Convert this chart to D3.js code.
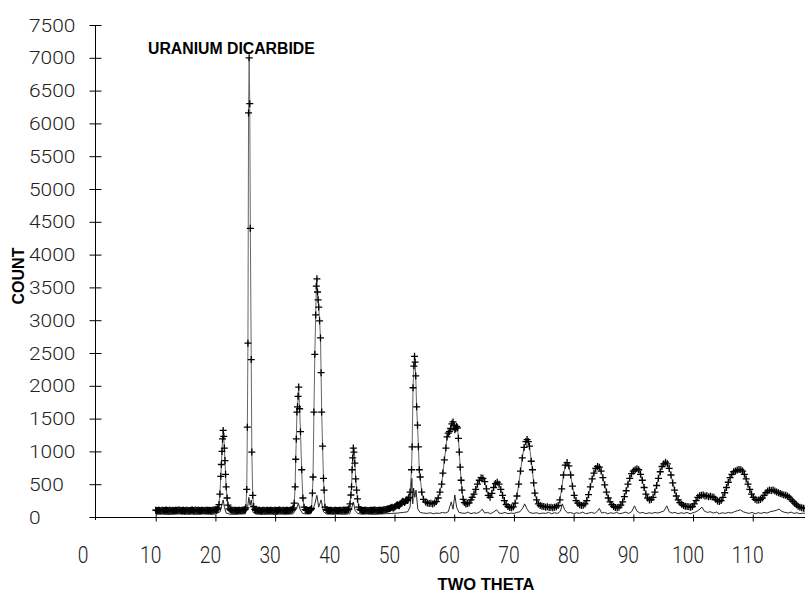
<!DOCTYPE html>
<html>
<head>
<meta charset="utf-8">
<script src="https://cdn.jsdelivr.net/npm/d3@7"></script>
<style>
  body { margin: 0; background: #fff; }
  svg { display: block; }
  .tick-label { font-family: Roboto, "DejaVu Sans", sans-serif; font-weight: 300; fill: #222; }
  .bold-label { font-family: "Liberation Sans", Arial, sans-serif; font-weight: bold; fill: #000; }
</style>
</head>
<body>
<svg class="xrd" width="805" height="596"></svg>
<script>
// tick labels
const xTicks = [0, 10, 20, 30, 40, 50, 60, 70, 80, 90, 100, 110]
const yTicks = [0, 500, 1000, 1500, 2000, 2500, 3000, 3500, 4000, 4500, 5000, 5500, 6000, 6500, 7000, 7500]

const observed = [
    [10.0,104],[10.15,100],[10.3,98],[10.45,103],[10.6,101],[10.75,97],[10.9,96],[11.05,102],[11.2,103],[11.35,99],
    [11.5,99],[11.65,104],[11.8,105],[11.95,100],[12.1,97],[12.25,101],[12.4,102],[12.55,98],[12.7,100],[12.85,104],
    [13.0,95],[13.15,99],[13.3,103],[13.45,101],[13.6,99],[13.75,103],[13.9,106],[14.05,101],[14.2,98],[14.35,96],
    [14.5,101],[14.65,104],[14.8,97],[14.95,100],[15.1,104],[15.25,102],[15.4,100],[15.55,98],[15.7,96],[15.85,101],
    [16.0,102],[16.15,105],[16.3,99],[16.45,97],[16.6,105],[16.75,101],[16.9,98],[17.05,103],[17.2,101],[17.35,99],
    [17.5,97],[17.65,102],[17.8,103],[17.95,98],[18.1,100],[18.25,104],[18.4,98],[18.55,101],[18.7,104],[18.85,99],
    [19.0,101],[19.15,98],[19.3,97],[19.45,102],[19.6,103],[19.75,105],[19.9,108],[20.05,110],[20.2,112],[20.35,120],
    [20.45,135],
    [20.6,190],[20.75,350],[20.9,620],[21.0,800],[21.1,1000],[21.2,1190],[21.3,1320],[21.4,1230],[21.5,1050],
    [21.6,860],[21.7,650],[21.8,460],[21.95,290],[22.1,180],[22.3,125],
    [22.5,110],[22.65,106],[22.8,104],[22.95,101],[23.1,99],[23.25,103],[23.4,102],[23.55,98],[23.7,97],[23.85,101],
    [24.0,103],[24.15,99],[24.3,100],[24.45,104],[24.6,106],[24.75,103],[24.9,112],[25.0,120],[25.1,140],
    [25.25,420],[25.35,1370],[25.45,2650],[25.55,6160],[25.65,7000],[25.75,6300],[25.85,4400],[26.0,2400],
    [26.1,990],[26.25,330],[26.4,160],
    [26.6,115],[26.7,108],[26.8,104],[26.95,101],[27.1,98],[27.25,102],[27.4,101],[27.55,97],[27.7,97],[27.85,100],
    [28.0,103],[28.15,101],[28.3,99],[28.45,96],[28.6,102],[28.75,104],[28.9,96],[29.05,100],[29.2,104],[29.35,101],
    [29.5,100],[29.65,98],[29.8,97],[29.95,101],[30.1,103],[30.25,100],[30.4,99],[30.55,102],[30.7,105],[30.85,101],
    [31.0,98],[31.15,97],[31.3,101],[31.45,104],[31.6,97],[31.75,100],[31.9,103],[32.05,102],[32.2,100],[32.35,99],
    [32.5,104],[32.65,106],[32.8,110],[32.95,122],[33.05,140],
    [33.2,210],[33.35,460],[33.45,880],[33.55,1190],[33.65,1600],[33.75,1680],[33.85,1840],[33.95,1980],
    [34.1,1650],[34.25,1300],[34.45,720],[34.65,290],[34.85,150],
    [35.05,112],[35.2,106],[35.3,103],[35.45,100],[35.6,99],[35.75,102],[35.9,106],[36.0,115],[36.1,130],
    [36.25,365],[36.35,610],[36.5,1600],[36.65,2480],[36.8,3080],[36.9,3520],[37.0,3630],[37.1,3430],[37.2,3310],
    [37.3,3200],[37.45,2990],[37.6,2730],[37.7,2200],[37.8,1600],[37.95,1080],[38.1,590],[38.2,410],[38.35,150],
    [38.55,112],[38.7,106],[38.8,103],[38.95,100],[39.1,99],[39.25,102],[39.4,101],[39.55,98],[39.7,96],[39.85,100],
    [40.0,104],[40.15,102],[40.3,100],[40.45,98],[40.6,97],[40.75,101],[40.9,103],[41.05,100],[41.2,99],[41.35,102],
    [41.5,105],[41.65,103],[41.8,101],[41.95,104],[42.1,108],[42.25,115],[42.35,125],
    [42.55,200],[42.7,335],[42.8,460],[42.9,720],[43.0,900],[43.1,1050],[43.2,990],[43.35,820],[43.5,580],
    [43.65,410],[43.8,275],[44.0,150],
    [44.2,115],[44.35,107],[44.5,102],[44.65,100],[44.8,98],[44.95,101],[45.1,104],[45.25,102],[45.4,100],[45.55,98],
    [45.7,97],[45.85,100],[46.0,103],[46.15,101],[46.3,99],[46.45,102],[46.6,105],[46.75,103],[46.9,101],[47.05,99],
    [47.2,98],[47.35,101],[47.5,104],[47.65,102],[47.8,100],[47.95,104],[48.1,107],[48.25,109],[48.4,110],[48.55,114],
    [48.7,118],[48.85,121],[49.0,125],[49.15,128],[49.3,132],[49.45,145],[49.6,150],[49.75,138],[49.9,140],[50.05,155],
    [50.2,165],[50.35,178],[50.5,185],[50.65,175],[50.8,170],[50.95,195],[51.1,210],[51.25,228],[51.4,240],[51.55,232],
    [51.7,220],[51.85,245],[52.0,260],[52.1,255],[52.2,250],[52.3,275],[52.4,300],
    [52.6,380],[52.85,720],[52.95,1070],[53.1,1970],[53.25,2300],[53.35,2450],[53.45,2360],[53.55,2150],[53.7,1680],
    [53.85,1400],[54.0,1070],[54.15,720],[54.3,610],[54.55,380],[54.85,270],[55.2,230],
    [55.5,215],[55.8,205],[56.1,210],[56.4,200],[56.7,215],[57.0,235],[57.3,290],[57.6,380],[57.9,500],[58.1,670],
    [58.35,870],[58.6,1050],[58.8,1220],[59.0,1280],[59.2,1300],[59.4,1350],[59.6,1420],[59.8,1450],[59.95,1400],
    [60.1,1330],[60.25,1350],[60.4,1380],[60.55,1360],[60.7,1200],[60.85,990],[61.0,760],[61.15,560],[61.3,410],
    [61.5,270],[61.7,220],[61.95,200],[62.2,205],[62.5,215],[62.8,260],
    [63.0,300],[63.3,350],[63.6,420],[63.9,500],[64.2,560],[64.5,600],[64.8,590],[65.1,540],[65.4,430],[65.7,330],
    [66.0,300],[66.3,360],[66.6,450],[66.9,510],[67.2,530],[67.5,500],[67.8,420],[68.1,330],[68.4,250],[68.7,190],
    [69.0,160],[69.3,145],[69.6,140],[69.9,155],[70.2,210],[70.5,320],[70.8,500],[71.1,700],[71.4,900],[71.7,1060],
    [72.0,1150],[72.2,1180],[72.4,1150],[72.6,1080],[72.9,850],[73.1,720],[73.3,520],[73.5,365],[73.8,260],[74.1,200],
    [74.4,175],[74.7,165],[75.0,160],[75.3,150],[75.6,155],[75.9,145],[76.2,150],[76.5,140],[76.8,150],[77.1,155],
    [77.4,175],[77.7,260],[78.0,430],[78.3,640],[78.6,790],[78.9,830],[79.2,780],[79.5,640],[79.8,470],[80.1,330],
    [80.4,250],[80.7,210],[81.0,185],[81.3,175],[81.6,180],[81.9,200],[82.2,250],[82.5,340],[82.8,460],[83.1,580],
    [83.4,670],[83.7,740],[84.0,770],[84.3,760],[84.6,700],[84.9,600],[85.2,490],[85.5,380],[85.8,290],[86.1,230],
    [86.4,190],[86.7,160],[87.0,145],[87.3,140],[87.6,150],[87.9,180],[88.2,230],[88.5,310],[88.8,400],[89.1,500],
    [89.4,590],[89.7,660],[90.0,700],[90.3,720],[90.6,735],[90.9,720],[91.2,650],[91.5,560],[91.8,450],[92.1,350],
    [92.4,290],[92.7,260],[93.0,265],[93.3,300],[93.6,380],[93.9,480],[94.2,590],[94.5,690],[94.8,770],[95.1,810],
    [95.4,835],[95.7,810],[96.0,740],[96.3,640],[96.6,520],[96.9,410],[97.2,320],[97.5,260],[97.8,220],[98.1,195],
    [98.4,175],[98.7,165],[99.0,160],[99.3,155],[99.6,150],[99.9,160],[100.2,200],[100.5,250],[100.8,300],[101.1,325],
    [101.4,330],[101.7,335],[102.0,320],[102.3,325],[102.6,310],[102.9,315],[103.2,305],[103.5,300],[103.8,270],[104.1,245],
    [104.4,235],[104.7,250],[105.0,300],[105.3,370],[105.6,450],[105.9,530],[106.2,600],[106.5,650],[106.8,690],[107.1,700],
    [107.4,715],[107.7,725],[108.0,720],[108.3,700],[108.6,650],[108.9,580],[109.2,500],[109.5,420],[109.8,350],[110.1,300],
    [110.4,270],[110.7,255],[111.0,260],[111.3,265],[111.6,290],[111.9,330],[112.2,370],[112.5,395],[112.8,410],[113.1,405],
    [113.4,410],[113.7,395],[114.0,380],[114.3,370],[114.6,360],[114.9,345],[115.2,335],[115.5,330],[115.8,320],[116.1,300],
    [116.4,270],[116.7,240],[117.0,210],[117.3,185],[117.6,165],[117.9,150],[118.2,140],[118.5,135],[118.8,130]
]

// thin lower trace
const lower = [
    [10,40],[11,45],[12,38],[13,42],[14,47],[15,40],[16,44],[17,39],[18,46],[19,41],[20,45],[20.8,80],[21.1,200],
    [21.3,260],[21.5,150],[21.8,60],[22.3,45],[23,40],[24,44],[25,48],[25.4,150],[25.6,300],[25.8,180],[26.0,260],
    [26.3,70],[26.8,45],[28,40],[29,44],[30,39],[31,45],[32,41],[33,48],[33.6,130],[33.9,210],[34.2,110],[34.6,55],
    [35.3,45],[36,48],[36.6,180],[37.0,330],[37.3,150],[37.7,260],[38.1,80],[38.6,45],[39.5,42],[40.5,46],[41.5,40],
    [42.5,50],[42.9,160],[43.1,230],[43.4,100],[43.8,55],[44.5,42],[45.5,46],[46.5,40],[47.5,45],[48.5,50],[49.5,55],
    [50.5,60],[51.5,70],[52.2,80],[52.6,150],[52.9,590],[53.05,200],[53.2,440],[53.4,300],[53.6,410],[53.9,120],
    [54.3,70],[54.8,60],[55.5,55],[56,65],[56.5,50],[57,60],[57.5,55],[58,70],[58.5,60],[59,80],[59.5,230],[59.8,120],
    [60.1,335],[60.4,150],[60.8,70],[61.3,60],[61.8,55],[62.3,75],[62.8,50],[63.3,65],[63.8,55],[64.3,80],[64.7,120],
    [65.1,60],[65.6,70],[66.1,50],[66.6,75],[67.1,110],[67.5,60],[68,55],[68.5,70],[69,50],[69.5,60],[70,55],[70.5,70],
    [71,80],[71.5,140],[71.8,200],[72.2,120],[72.6,70],[73.2,55],[73.8,65],[74.3,50],[74.8,60],[75.3,55],[75.8,70],
    [76.3,50],[76.8,65],[77.3,55],[77.8,90],[78.1,200],[78.5,110],[79,60],[79.5,70],[80,50],[80.5,65],[81,55],[81.5,75],
    [82,50],[82.5,60],[83,70],[83.5,55],[84,90],[84.3,130],[84.7,60],[85.2,70],[85.7,50],[86.2,65],[86.7,55],[87.2,70],
    [87.7,50],[88.2,60],[88.7,75],[89.2,55],[89.7,80],[90.2,170],[90.6,90],[91.1,60],[91.6,70],[92.1,50],[92.6,65],
    [93.1,55],[93.6,70],[94.1,60],[94.6,75],[95.1,90],[95.6,170],[96,80],[96.5,60],[97,70],[97.5,50],[98,65],[98.5,55],
    [99,70],[99.5,50],[100,65],[100.5,80],[101,110],[101.5,150],[101.9,90],[102.4,70],[102.9,80],[103.4,60],[103.9,75],
    [104.4,50],[104.9,65],[105.4,55],[105.9,70],[106.4,60],[106.9,80],[107.4,95],[107.9,110],[108.4,80],[108.9,65],
    [109.4,55],[109.9,70],[110.4,50],[110.9,65],[111.4,55],[111.9,70],[112.4,60],[112.9,80],[113.4,90],[113.9,100],
    [114.4,120],[114.9,85],[115.4,70],[115.9,60],[116.4,75],[116.9,55],[117.4,65],[117.9,50],[118.4,60],[118.8,55]
]

const svg = d3.select("svg.xrd")

const xScale = d3.scaleLinear()
    .domain([0, 118.75])
    .range([96, 805])

const yScale = d3.scaleLinear()
    .domain([0, 7500])
    .range([517, 25])

svg.append("clipPath")
    .attr("id", "plot-clip")
    .append("rect")
    .attr("x", 96)
    .attr("y", 0)
    .attr("width", 709)
    .attr("height", 520)

const plot = svg.append("g").attr("clip-path", "url(#plot-clip)")

const line = d3.line()
    .x(d => xScale(d[0]))
    .y(d => yScale(d[1]))

// lower trace
plot.append("path")
    .datum(lower)
    .attr("fill", "none")
    .attr("stroke", "#111")
    .attr("stroke-width", 0.9)
    .attr("d", line)

// observed trace and its plus markers
plot.append("path")
    .datum(observed)
    .attr("fill", "none")
    .attr("stroke", "#666")
    .attr("stroke-width", 1)
    .attr("d", line)

plot.selectAll("path.plus")
    .data(observed)
    .enter()
    .append("path")
    .attr("class", "plus")
    .attr("transform", d => "translate(" + xScale(d[0]) + "," + yScale(d[1]) + ")")
    .attr("d", "M-3.5,0H3.5M0,-3.5V3.5")
    .attr("stroke", "#000")
    .attr("stroke-width", 1.3)

// axes
const yAxis = svg.append("g")
    .attr("transform", "translate(95.5,0)")
    .call(d3.axisLeft(yScale).tickValues(yTicks).tickSize(0).tickFormat(""))

yAxis.select(".domain").remove()
yAxis.selectAll(".tick line").attr("x1", -6).attr("x2", 6).attr("stroke", "#000")
yAxis.append("line")
    .attr("x1", 0).attr("x2", 0)
    .attr("y1", yScale(7500)).attr("y2", yScale(0) + 3)
    .attr("stroke", "#000")

const xAxis = svg.append("g")
    .attr("transform", "translate(0,517.5)")
    .call(d3.axisBottom(xScale).tickValues(xTicks.slice(1)).tickSize(0).tickFormat(""))

xAxis.select(".domain").remove()
xAxis.selectAll(".tick line").attr("y1", -3).attr("y2", 4).attr("stroke", "#000")
xAxis.append("line")
    .attr("x1", 91).attr("x2", 805)
    .attr("y1", 0).attr("y2", 0)
    .attr("stroke", "#000")

// tick labels
svg.selectAll("text.ylab")
    .data(yTicks)
    .enter()
    .append("text")
    .attr("class", "tick-label ylab")
    .attr("transform", d => "translate(29," + (yScale(d) + 6.6) + ") scale(1.12,1)")
    .attr("font-size", 18.7)
    .text(d => d)

svg.selectAll("text.xlab")
    .data(xTicks)
    .enter()
    .append("text")
    .attr("class", "tick-label xlab")
    .attr("text-anchor", "middle")
    .attr("transform", (d, i) => "translate(" + (xScale(d) - (i === 0 ? 13 : 5)) + ",563) scale(0.82,1)")
    .attr("font-size", 23.5)
    .text(d => d)

// titles
svg.append("text")
    .attr("class", "bold-label")
    .attr("x", 148)
    .attr("y", 54)
    .attr("font-size", 15.8)
    .text("URANIUM DICARBIDE")

svg.append("text")
    .attr("class", "bold-label")
    .attr("text-anchor", "middle")
    .attr("transform", "translate(24,276) rotate(-90)")
    .attr("font-size", 16)
    .text("COUNT")

svg.append("text")
    .attr("class", "bold-label")
    .attr("text-anchor", "middle")
    .attr("x", 486)
    .attr("y", 590)
    .attr("font-size", 16.5)
    .text("TWO THETA")
</script>
</body>
</html>
